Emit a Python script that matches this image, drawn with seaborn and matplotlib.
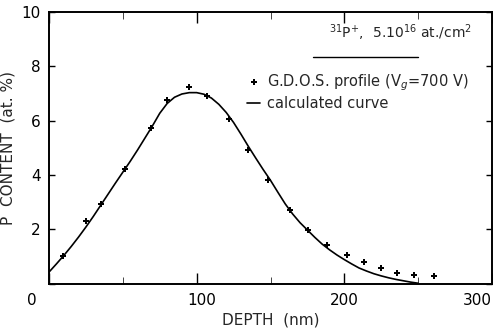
import numpy as np
import pandas as pd
import matplotlib
matplotlib.use("Agg")
import matplotlib.pyplot as plt
import matplotlib.transforms as mtransforms
from matplotlib.lines import Line2D
import seaborn as sns

gdos_depth = [9.6, 25.3, 35.3, 51.7, 68.9, 80.1, 94.6, 106.9, 121.9, 134.9,
              148.3, 162.9, 175.2, 188.6, 201.5, 213.2, 224.8, 236.0, 247.2, 260.9]
gdos_content = [1.00, 2.29, 2.92, 4.23, 5.73, 6.75, 7.24, 6.91, 6.05, 4.91,
                3.80, 2.69, 1.96, 1.43, 1.06, 0.79, 0.58, 0.39, 0.32, 0.26]

# calculated curve
calc_depth = [0, 5, 10, 15, 20, 25, 30, 35, 40, 45, 50, 55, 60, 65, 70, 75, 80, 85,
              90, 95, 100, 105, 110, 115, 120, 125, 130, 135, 140, 145, 150, 155,
              160, 165, 170, 175, 180, 185, 190, 195, 200, 205, 210, 215, 220, 225,
              230, 235, 240, 245, 250]
calc_content = [0.42, 0.72, 1.03, 1.36, 1.71, 2.08, 2.47, 2.88, 3.29, 3.70, 4.10,
                4.50, 4.92, 5.36, 5.80, 6.27, 6.63, 6.86, 6.98, 7.03, 7.03, 6.97,
                6.83, 6.60, 6.30, 5.93, 5.50, 5.05, 4.62, 4.20, 3.80, 3.36, 2.93,
                2.56, 2.24, 1.97, 1.70, 1.45, 1.24, 1.05, 0.88, 0.72, 0.57, 0.46,
                0.36, 0.28, 0.21, 0.15, 0.10, 0.05, 0.01]

x_ticks = [0, 100, 200, 300]
x_labels = ['0', '100', '200', '300']
x_minor = [50, 150, 250]
y_ticks = [0, 2, 4, 6, 8, 10]
y_labels = ['', '2', '4', '6', '8', '10']

gdos = pd.DataFrame({'depth': gdos_depth, 'content': gdos_content})
calc = pd.DataFrame({'depth': calc_depth, 'content': calc_content})

sns.set_style("ticks")
plt.rcParams['font.family'] = ['DejaVu Sans']

fig = plt.figure(figsize=(4.93, 3.31), dpi=100)
ax = fig.add_axes([49 / 493, 1 - 283.5 / 331, 443 / 493, 271.5 / 331])

sns.lineplot(data=calc, x='depth', y='content', ax=ax, color='black',
             linewidth=1.2, label='calculated curve', legend=False)
sns.scatterplot(data=gdos, x='depth', y='content', ax=ax, color='black',
                marker='P', s=22, linewidth=0, label=r'G.D.O.S. profile (V$_g$=700 V)',
                legend=False, zorder=3)

ax.set_xlim(0, 297)
ax.set_ylim(0, 10)
ax.set_xticks(x_ticks)
ax.set_xticklabels(x_labels)
ax.set_xticks(x_minor, minor=True)
ax.set_yticks(y_ticks)
ax.set_yticklabels(y_labels)
ax.tick_params(axis='both', direction='in', top=True, right=True,
               labelsize=11, width=1.0, colors='black')
ax.tick_params(axis='x', which='major', length=8, pad=7)
ax.tick_params(axis='x', which='minor', length=5, direction='in', top=True)
ax.tick_params(axis='y', length=4, pad=6)
for s in ax.spines.values():
    s.set_linewidth(1.4)
    s.set_color('black')

# hand-lettered tick labels sit a little off their ticks in the original
shifts = [-17, 5, 0, -15]
for lab, dx in zip(ax.get_xticklabels(), shifts):
    lab.set_transform(lab.get_transform() +
                      mtransforms.ScaledTranslation(dx / 100, 0, fig.dpi_scale_trans))

ax.set_xlabel('DEPTH  (nm)', fontsize=11, labelpad=3)
ax.set_ylabel('P  CONTENT  (at. %)', fontsize=11, labelpad=4)

# annotation and legend
fig.text(400 / 493, 1 - 33 / 331, r'$^{31}$P$^{+}$,  5.10$^{16}$ at./cm$^{2}$',
         ha='center', va='center', fontsize=10)
fig.add_artist(Line2D([313 / 493, 418 / 493], [1 - 57 / 331, 1 - 57 / 331],
                      color='black', linewidth=1.0))

handles, labels = ax.get_legend_handles_labels()
order = [1, 0]
ax.legend([handles[i] for i in order], [labels[i] for i in order],
          loc='upper left', bbox_to_anchor=(247 / 493, 1 - 72 / 331),
          bbox_transform=fig.transFigure, frameon=False, fontsize=10.5,
          handlelength=0.9, handletextpad=0.5, labelspacing=0.25,
          borderpad=0, borderaxespad=0)

fig.savefig('out.png', dpi=100)
